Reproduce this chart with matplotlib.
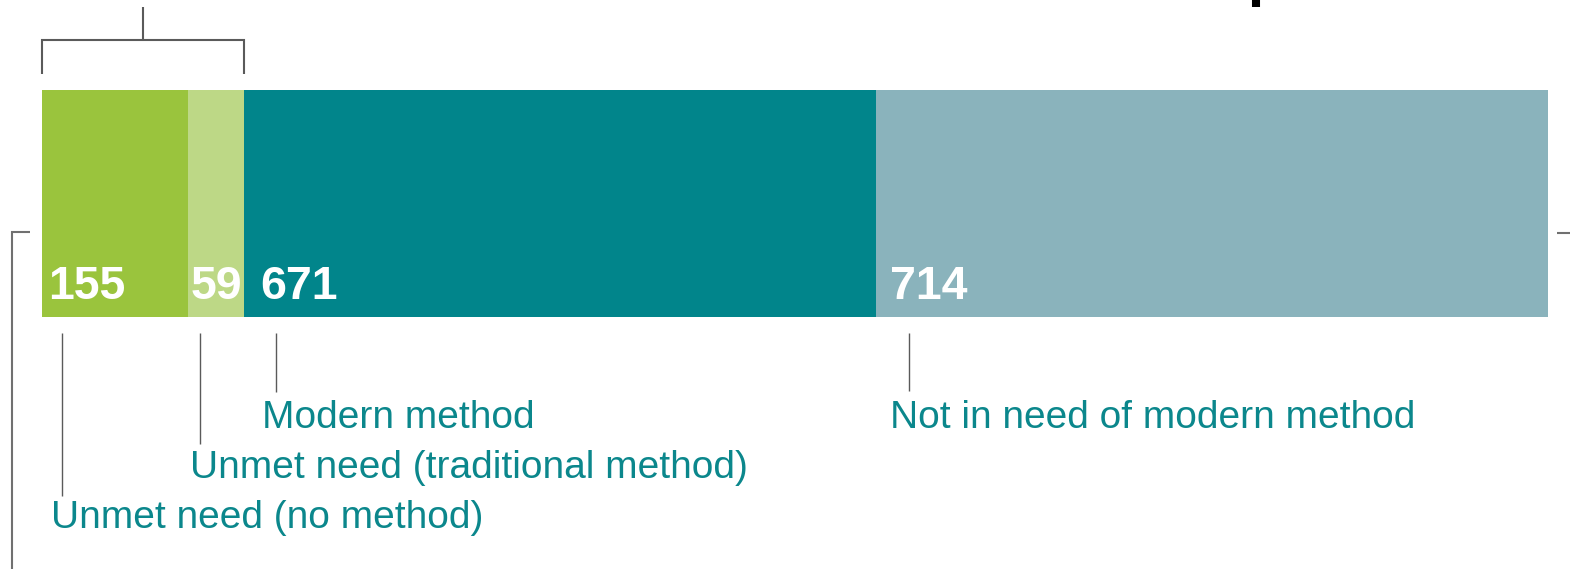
import matplotlib
matplotlib.use("Agg")
import matplotlib.pyplot as plt

# ---- data ----
categories = ["Unmet need (no method)", "Unmet need (traditional method)",
              "Modern method", "Not in need of modern method"]
values = [155, 59, 671, 714]
value_labels = ["155", "59", "671", "714"]
colors = ["#9ac43d", "#bdd886", "#01858b", "#8ab3bc"]

W, H = 1570, 569
DPI = 100
fig = plt.figure(figsize=(W / DPI, H / DPI), dpi=DPI)
ax = fig.add_axes([0, 0, 1, 1])
ax.axis("off")

total = sum(values)
bar_left_px, bar_right_px = 42, 1548
s = (bar_right_px - bar_left_px) / total
ax.set_xlim(-bar_left_px / s, (W - bar_left_px) / s)
ax.set_ylim(H, 0)

def px(x):
    return (x - bar_left_px) / s

font = "Liberation Sans"
teal_txt = "#0b878c"
line_col = "#5a5a5a"

# bar
lefts = []
acc = 0
for v in values:
    lefts.append(acc)
    acc += v
ax.barh([203.5] * len(values), values, left=lefts, height=227,
        color=colors, edgecolor="none")

# value labels inside bar
num_off = [6, 3, 17, 14]
for l, lab, o in zip(lefts, value_labels, num_off):
    ax.text(l + o / s, 299, lab, color="white", fontsize=33.5,
            fontweight="bold", family=font, ha="left", va="baseline")

# leader lines and category labels
lead_off = [20, 12, 32, 33]
lead_end = [496, 444, 392, 391]
lab_off = [9, 2, 18, 14]
lab_base = [528, 478, 428, 428]
for l, cat, lo, le, tx, tb in zip(lefts, categories, lead_off, lead_end, lab_off, lab_base):
    ax.plot([l + lo / s] * 2, [333, le], color=line_col, lw=1.0,
            solid_capstyle="butt")
    ax.text(l + tx / s, tb, cat, color=teal_txt, fontsize=28,
            family=font, ha="left", va="baseline")

# top bracket over unmet need
unmet_end = lefts[2]
ax.plot([0, 0, unmet_end, unmet_end], [74, 40, 40, 74], color=line_col,
        lw=1.5, solid_joinstyle="miter", solid_capstyle="butt")
ax.plot([unmet_end / 2] * 2, [7, 40], color=line_col, lw=1.5,
        solid_capstyle="butt")

# side brackets
ax.plot([px(12), px(12), px(30)], [H, 232, 232], color="#707070", lw=1.5,
        solid_joinstyle="miter", solid_capstyle="butt")
ax.plot([px(1557), px(1572)], [233, 233], color="#707070", lw=1.5,
        solid_capstyle="butt")

# clipped fragment of a title glyph at the top
ax.plot([px(1256)] * 2, [0, 7], color="black", lw=5.8, solid_capstyle="butt")

fig.savefig("out.png", dpi=DPI)
